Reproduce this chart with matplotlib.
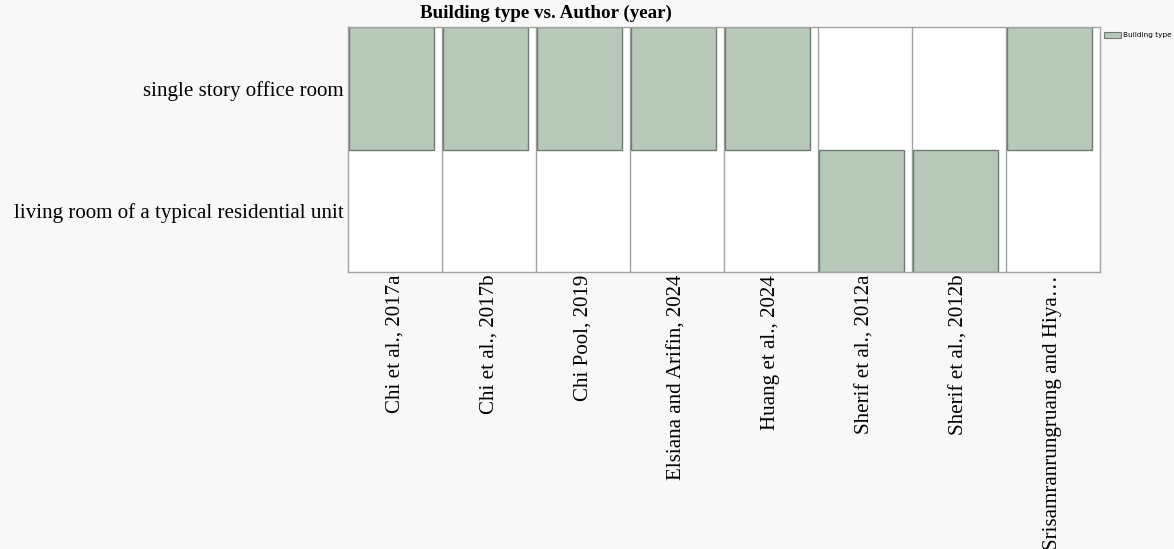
import matplotlib.pyplot as plt
from matplotlib.patches import Rectangle

# Data
authors = [
    "Chi et al., 2017a",
    "Chi et al., 2017b",
    "Chi Pool, 2019",
    "Elsiana and Arifin, 2024",
    "Huang et al., 2024",
    "Sherif et al., 2012a",
    "Sherif et al., 2012b",
    "Srisamranrungruang and Hiya\u2026",
]
building_types = [
    "living room of a typical residential unit",
    "single story office room",
]
# building type index for each author (0 = living room, 1 = office room)
author_type = [1, 1, 1, 1, 1, 0, 0, 1]

bar_color = "#b8c9b9"
edge_color = "#6f7b70"
grid_color = "#a3a3a3"

fig = plt.figure(figsize=(11.74, 5.49), dpi=100, facecolor="#f8f8f8")
ax = fig.add_axes([348 / 1174, 1 - 272 / 549, 752 / 1174, 245 / 549])
ax.set_facecolor("white")

for i, t in enumerate(author_type):
    ax.add_patch(Rectangle((i + 0.01, t), 0.9, 1.0, facecolor=bar_color,
                           edgecolor=edge_color, linewidth=1.0, zorder=2))

for i in range(1, len(authors)):
    ax.axvline(i, color=grid_color, linewidth=1.0, zorder=1)

ax.set_xlim(0, len(authors))
ax.set_ylim(0, len(building_types))
ax.set_xticks([i + 0.5 for i in range(len(authors))])
ax.set_xticklabels(authors, rotation=90, fontsize=15.1, family="Liberation Serif")
ax.set_yticks([i + 0.5 for i in range(len(building_types))])
ax.set_yticklabels(building_types, fontsize=15.1, family="Liberation Serif")
ax.tick_params(axis="x", length=0, pad=2)
ax.tick_params(axis="y", length=0, pad=3)
for spine in ax.spines.values():
    spine.set_color(grid_color)
    spine.set_linewidth(1.0)

fig.text(546 / 1174, 1 - 13 / 549, "Building type vs. Author (year)", ha="center",
         va="center", fontsize=13.7, fontweight="bold", family="Liberation Serif")

# small legend at the right edge
fig.patches.append(Rectangle((1104 / 1174, 1 - 38 / 549), 17 / 1174, 6 / 549,
                             transform=fig.transFigure, facecolor=bar_color,
                             edgecolor=edge_color, linewidth=0.8))
fig.text(1123 / 1174, 1 - 35 / 549, "Building type", ha="left", va="center",
         fontsize=5.3, family="DejaVu Sans")

fig.savefig("out.png", dpi=100, facecolor=fig.get_facecolor())
